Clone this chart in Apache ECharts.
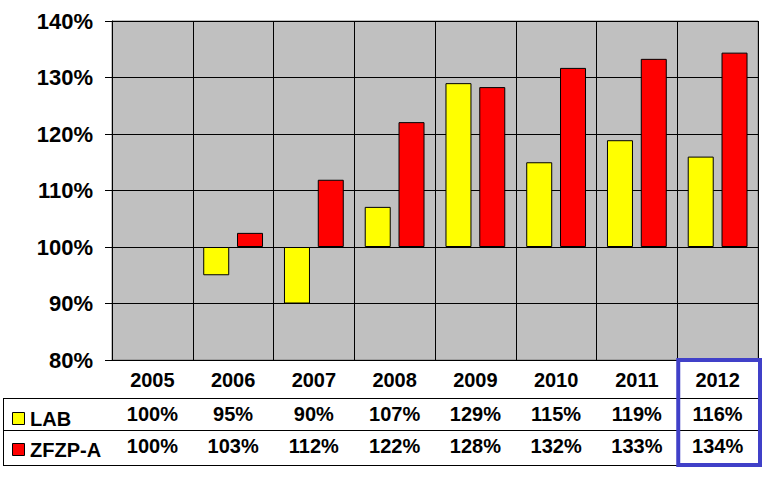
<!DOCTYPE html>
<html>
<head>
<meta charset="utf-8">
<script src="https://cdn.jsdelivr.net/npm/echarts@6/dist/echarts.min.js"></script>
<style>html,body{margin:0;padding:0;background:#fff}#c{width:770px;height:477px}</style>
</head>
<body>
<div id="c"></div>
<script>
const years = ['2005','2006','2007','2008','2009','2010','2011','2012'];
const labValues = [100, 95.0, 90.0, 107.1, 129.0, 115.0, 118.9, 116.0];
const zfzpValues = [100, 102.5, 111.9, 122.1, 128.3, 131.7, 133.3, 134.4];
const yTicks = [80, 90, 100, 110, 120, 130, 140];
const seriesNames = ['LAB', 'ZFZP-A'];
const seriesColors = ['#FFFF00', '#FF0000'];
const BASE = 100;

const FONT = '"Liberation Sans", Arial, sans-serif';
const chart = echarts.init(document.getElementById('c'), null, {renderer: 'svg'});

const pct = v => Math.round(v) + '%';
const barData = arr => arr.map(v => (v === BASE ? null : +(v - BASE).toFixed(2)));

const option = {
  backgroundColor: '#ffffff',
  animation: false,
  grid: {left: 112, right: 12, top: 21, bottom: 117, show: true,
         backgroundColor: '#C0C0C0', borderColor: '#808080', borderWidth: 1},
  xAxis: [
    {type: 'category', data: years, gridIndex: 0, position: 'bottom',
     axisLine: {show: true, lineStyle: {color: '#000', width: 1}},
     axisTick: {show: true, length: 105, lineStyle: {color: '#000', width: 1}},
     axisLabel: {fontFamily: FONT, fontWeight: 'bold', fontSize: 20, color: '#000', margin: 10},
     splitLine: {show: true, lineStyle: {color: '#000', width: 1}}},
    {type: 'category', data: labValues.map(pct), gridIndex: 0, position: 'bottom', offset: 38,
     axisLine: {show: true, lineStyle: {color: '#000', width: 1}},
     axisTick: {show: false},
     axisLabel: {fontFamily: FONT, fontWeight: 'bold', fontSize: 20, color: '#000', margin: 6},
     splitLine: {show: false}},
    {type: 'category', data: zfzpValues.map(pct), gridIndex: 0, position: 'bottom', offset: 70,
     axisLine: {show: true, lineStyle: {color: '#000', width: 1}},
     axisTick: {show: false},
     axisLabel: {fontFamily: FONT, fontWeight: 'bold', fontSize: 20, color: '#000', margin: 6},
     splitLine: {show: false}}
  ],
  yAxis: {
    type: 'value', min: yTicks[0] - BASE, max: yTicks[yTicks.length - 1] - BASE, interval: 10,
    axisLine: {show: true, lineStyle: {color: '#000', width: 1}},
    axisTick: {show: true, length: 7, lineStyle: {color: '#000'}},
    axisLabel: {fontFamily: FONT, fontWeight: 'bold', fontSize: 22, color: '#000', margin: 19,
                formatter: v => (v + BASE) + '%'},
    splitLine: {show: true, lineStyle: {color: '#000', width: 1}}
  },
  series: [
    {name: seriesNames[0], type: 'bar', xAxisIndex: 0, barWidth: 26, barGap: '30%',
     itemStyle: {color: seriesColors[0], borderColor: '#000', borderWidth: 1},
     data: barData(labValues)},
    {name: seriesNames[1], type: 'bar', xAxisIndex: 0, barWidth: 26, barGap: '30%',
     itemStyle: {color: seriesColors[1], borderColor: '#000', borderWidth: 1},
     data: barData(zfzpValues)}
  ]
};
chart.setOption(option);

// Table frame, row headers and highlight box, positioned from the chart's own axes
const x0 = chart.convertToPixel({xAxisIndex: 0}, years[0]);
const x1 = chart.convertToPixel({xAxisIndex: 0}, years[1]);
const band = x1 - x0;
const xLast = chart.convertToPixel({xAxisIndex: 0}, years[years.length - 1]);
const plotLeft = x0 - band / 2;
const plotRight = xLast + band / 2;
const yBottom = chart.convertToPixel({yAxisIndex: 0}, yTicks[0] - BASE);
const row1 = yBottom + 38, row2 = yBottom + 70, row3 = yBottom + 105;
const tableLeft = 3;
const ln = (x1_, y1_, x2_, y2_) => ({type: 'line', shape: {x1: x1_, y1: y1_, x2: x2_, y2: y2_},
  style: {stroke: '#000', lineWidth: 1}, z: 10});
const rowCenters = [row1 + 21, row2 + 20];
const headers = [];
seriesNames.forEach((name, i) => {
  headers.push({type: 'rect', shape: {x: 12.5, y: rowCenters[i] - 6.5, width: 12, height: 12},
    style: {fill: seriesColors[i], stroke: '#000', lineWidth: 1}, z: 10});
  headers.push({type: 'text', x: 30, y: rowCenters[i],
    style: {text: name, fontFamily: FONT, fontWeight: 'bold', fontSize: 20, fill: '#000',
            verticalAlign: 'middle', align: 'left'}, z: 10});
});
chart.setOption({graphic: [
  ln(tableLeft, row1 + 0.5, plotLeft, row1 + 0.5),
  ln(tableLeft, row2 + 0.5, plotLeft, row2 + 0.5),
  ln(tableLeft, row3 + 0.5, plotRight, row3 + 0.5),
  ln(tableLeft + 0.5, row1, tableLeft + 0.5, row3),
  ...headers,
  {type: 'rect', shape: {x: xLast - band / 2 + 1, y: yBottom, width: band + 1, height: row3 - yBottom},
   style: {fill: 'none', stroke: '#4040C8', lineWidth: 4}, z: 20}
]});
</script>
</body>
</html>
